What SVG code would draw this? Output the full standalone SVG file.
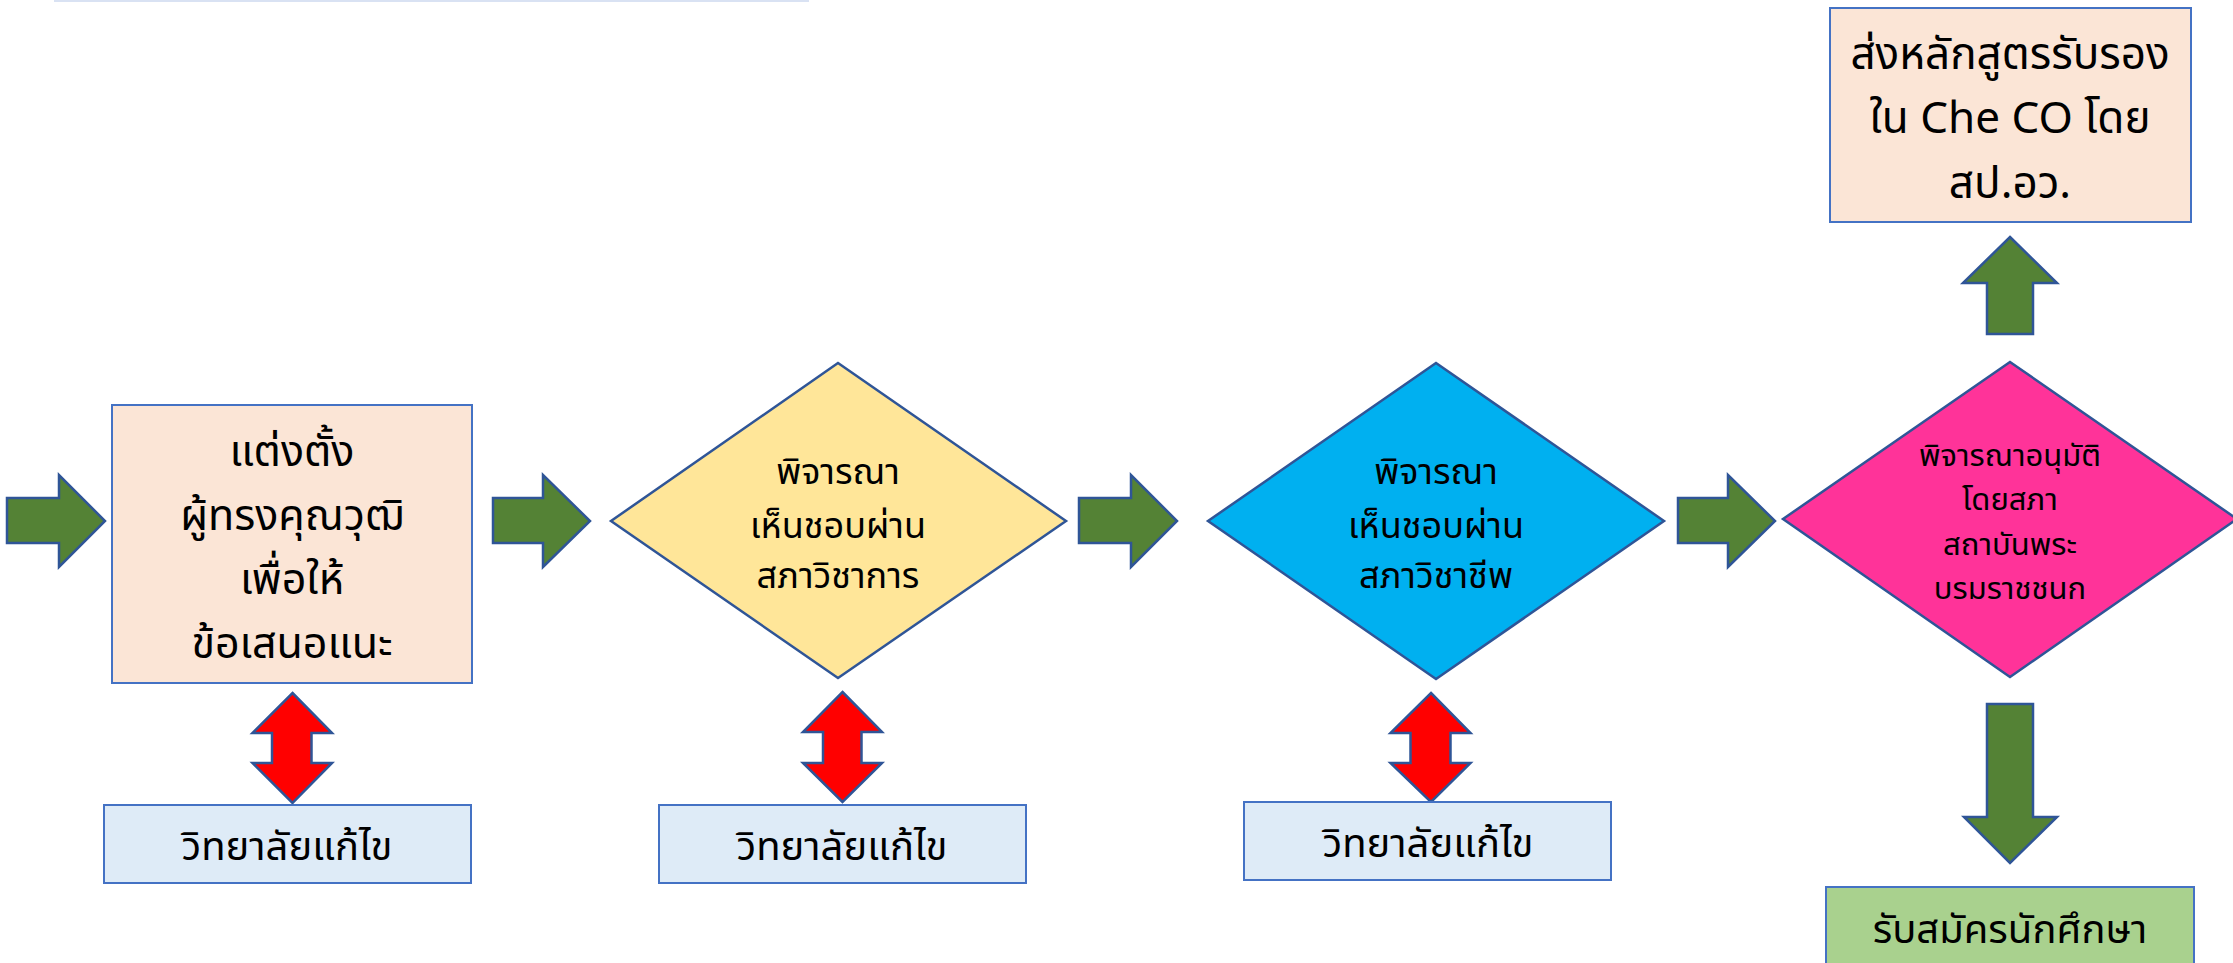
<svg xmlns="http://www.w3.org/2000/svg" width="2233" height="963" viewBox="0 0 2233 963">
<style>
.t{font-family:"Noto Sans Thai","Noto Sans","Leelawadee UI",Tahoma,sans-serif;fill:#000;text-anchor:middle}
.box{fill:#fbe5d6;stroke:#4472c4;stroke-width:2}
.blue{fill:#deebf7;stroke:#4472c4;stroke-width:2}
.grn{fill:#a9d18e;stroke:#4472c4;stroke-width:2}
.dia{stroke:#2f5597;stroke-width:2.5}
.ga{fill:#548235;stroke:#2f5597;stroke-width:2.5}
.ra{fill:#ff0000;stroke:#2f5597;stroke-width:2.5}
</style>
<rect width="2233" height="963" fill="#fff"/>
<line x1="54" y1="1" x2="809" y2="1" stroke="#d9e2f3" stroke-width="2"/>
<g id="connectors">
<polygon class="ga" points="7,498 59,498 59,475 105,521 59,567 59,543 7,543"/>
<polygon class="ga" points="493,498 543,498 543,475 590,521 543,567 543,543 493,543"/>
<polygon class="ga" points="1079,498 1131,498 1131,475 1177,521 1131,567 1131,543 1079,543"/>
<polygon class="ga" points="1678,498 1728,498 1728,475 1775,521 1728,567 1728,543 1678,543"/>
<polygon class="ga" points="2010,237 2057,283 2033,283 2033,334 1987,334 1987,283 1963,283"/>
<polygon class="ga" points="1987,704 2033,704 2033,817 2057,817 2010,863 1964,817 1987,817"/>
<polygon class="ra" points="292.5,693 332,733 311.5,733 311.5,763 332,763 292.5,803 252.5,763 272,763 272,733 252.5,733"/>
<polygon class="ra" points="842.5,692 882,732 861.5,732 861.5,763 882,763 842.5,802 803,763 823,763 823,732 803,732"/>
<polygon class="ra" points="1431,693 1470.5,733 1450.5,733 1450.5,763 1470.5,763 1431,802 1390.5,763 1410.5,763 1410.5,733 1390.5,733"/>
</g>
<g id="n1">
<rect class="box" x="112" y="405" width="360" height="278"/>
<text class="t" font-size="43" x="292" y="466">แต่งตั้ง</text>
<text class="t" font-size="43" x="292" y="530">ผู้ทรงคุณวุฒิ</text>
<text class="t" font-size="43" x="292" y="594">เพื่อให้</text>
<text class="t" font-size="43" x="292" y="658">ข้อเสนอแนะ</text>
</g>
<g id="n2">
<polygon class="dia" fill="#ffe699" points="838,363 1066,521 838,678 611,521"/>
<text class="t" font-size="36" x="838" y="484">พิจารณา</text>
<text class="t" font-size="36" x="838" y="538">เห็นชอบผ่าน</text>
<text class="t" font-size="36" x="838" y="588">สภาวิชาการ</text>
</g>
<g id="n3">
<polygon class="dia" fill="#00b0f0" points="1436,363 1664,521 1436,679 1208,521"/>
<text class="t" font-size="36" x="1436" y="484">พิจารณา</text>
<text class="t" font-size="36" x="1436" y="538">เห็นชอบผ่าน</text>
<text class="t" font-size="36" x="1436" y="588">สภาวิชาชีพ</text>
</g>
<g id="n4">
<polygon class="dia" fill="#ff3399" points="2010,362 2237,519 2010,677 1783,519"/>
<text class="t" font-size="31" x="2010" y="466">พิจารณาอนุมัติ</text>
<text class="t" font-size="31" x="2010" y="510">โดยสภา</text>
<text class="t" font-size="31" x="2010" y="555">สถาบันพระ</text>
<text class="t" font-size="31" x="2010" y="599">บรมราชชนก</text>
</g>
<g id="n5">
<rect class="box" x="1830" y="8" width="361" height="214"/>
<text class="t" font-size="44" x="2010" y="69">ส่งหลักสูตรรับรอง</text>
<text class="t" font-size="44" x="2010" y="133">ใน Che CO โดย</text>
<text class="t" font-size="44" x="2010" y="198">สป.อว.</text>
</g>
<g id="n6">
<rect class="blue" x="104" y="805" width="367" height="78"/>
<text class="t" font-size="40" x="287" y="860">วิทยาลัยแก้ไข</text>
</g>
<g id="n7">
<rect class="blue" x="659" y="805" width="367" height="78"/>
<text class="t" font-size="40" x="842" y="860">วิทยาลัยแก้ไข</text>
</g>
<g id="n8">
<rect class="blue" x="1244" y="802" width="367" height="78"/>
<text class="t" font-size="40" x="1428" y="857">วิทยาลัยแก้ไข</text>
</g>
<g id="n9">
<rect class="grn" x="1826" y="887" width="368" height="90"/>
<text class="t" font-size="40" x="2010" y="943">รับสมัครนักศึกษา</text>
</g>
</svg>
